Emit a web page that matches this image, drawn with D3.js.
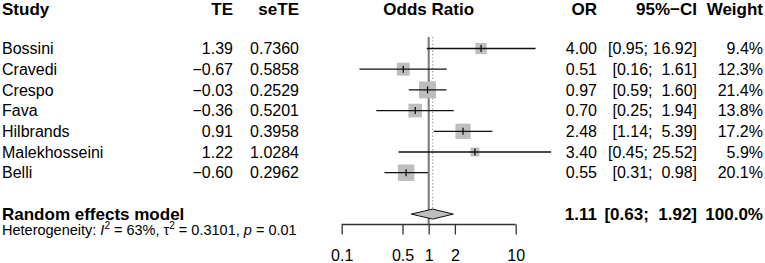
<!DOCTYPE html>
<html><head><meta charset="utf-8">
<script src="https://cdn.jsdelivr.net/npm/d3@7"></script>
<style>
html,body{margin:0;padding:0;background:#fff;}
svg{display:block;font-family:"Liberation Sans",Arial,Helvetica,sans-serif;}
text{white-space:pre;}
</style></head><body>
<svg id="chart" width="765" height="263"></svg>
<script>
const studies = ["Bossini","Cravedi","Crespo","Fava","Hilbrands","Malekhosseini","Belli"];
const te = ["1.39","\u22120.67","\u22120.03","\u22120.36","0.91","1.22","\u22120.60"];
const seTE = ["0.7360","0.5858","0.2529","0.5201","0.3958","1.0284","0.2962"];
const orVals = [4.00,0.51,0.97,0.70,2.48,3.40,0.55];
const lowerCI = [0.95,0.16,0.59,0.25,1.14,0.45,0.31];
const upperCI = [16.92,1.61,1.60,1.94,5.39,25.52,0.98];
const weights = [9.4,12.3,21.4,13.8,17.2,5.9,20.1];
const pooled = {label:"Random effects model", or:1.11, lower:0.63, upper:1.92, weight:100.0};
const tickValues = [0.1,0.5,1,2,10];
const tickLabels = ["0.1","0.5","1","2","10"];
const headers = ["Study","TE","seTE","Odds Ratio","OR","95%\u2212CI","Weight"];

const svg = d3.select("#chart");
const x = d3.scaleLog().domain([0.1,10]).range([341.7,515.7]);
const y = d3.scaleLinear().domain([0,8]).range([48.5,48.5+20.7*8]);
const sq = d3.scaleSqrt().domain([0,d3.max(weights)]).range([0,17]);
const FS = 16, FB = 17;
const base = 5.6;

const fmt2 = v => v.toFixed(2);
function ciStr(l,u){
  const a = fmt2(l), b = fmt2(u);
  return "[" + a + "; " + (b.length < 5 ? " " : "") + b + "]";
}

// headers
const hy = 14.5;
const hdr = svg.append("g").attr("font-weight","bold").attr("font-size",FB);
hdr.append("text").attr("x",2).attr("y",hy).text(headers[0]);
hdr.append("text").attr("x",233).attr("y",hy).attr("text-anchor","end").text(headers[1]);
hdr.append("text").attr("x",299).attr("y",hy).attr("text-anchor","end").text(headers[2]);
hdr.append("text").attr("x",x(1)).attr("y",hy).attr("text-anchor","middle").text(headers[3]);
hdr.append("text").attr("x",597).attr("y",hy).attr("text-anchor","end").text(headers[4]);
hdr.append("text").attr("x",697).attr("y",hy).attr("text-anchor","end").text(headers[5]);
hdr.append("text").attr("x",763).attr("y",hy).attr("text-anchor","end").text(headers[6]);

// reference lines
svg.append("line").attr("x1",x(1)).attr("x2",x(1)).attr("y1",37).attr("y2",224.5)
  .attr("stroke","#777").attr("stroke-width",2);
svg.append("line").attr("x1",x(pooled.or)).attr("x2",x(pooled.or)).attr("y1",37).attr("y2",y(8)-5)
  .attr("stroke","#999").attr("stroke-width",1.2).attr("stroke-dasharray","1.2,2.2");

// study rows
const rows = svg.append("g");
studies.forEach((s,i)=>{
  const yy = y(i);
  const g = rows.append("g").attr("font-size",FS);
  g.append("text").attr("x",2).attr("y",yy+base).text(s);
  g.append("text").attr("x",233).attr("y",yy+base).attr("text-anchor","end").text(te[i]);
  g.append("text").attr("x",299).attr("y",yy+base).attr("text-anchor","end").text(seTE[i]);
  g.append("text").attr("x",597).attr("y",yy+base).attr("text-anchor","end").text(fmt2(orVals[i]));
  g.append("text").attr("x",697).attr("y",yy+base).attr("text-anchor","end").text(ciStr(lowerCI[i],upperCI[i]));
  g.append("text").attr("x",763).attr("y",yy+base).attr("text-anchor","end").text(weights[i].toFixed(1)+"%");
  const side = sq(weights[i]);
  g.append("rect").attr("x",x(orVals[i])-side/2).attr("y",yy-side/2).attr("width",side).attr("height",side)
    .attr("fill","#bebebe");
  g.append("line").attr("x1",x(lowerCI[i])).attr("x2",x(upperCI[i])).attr("y1",yy).attr("y2",yy)
    .attr("stroke","#111").attr("stroke-width",1.3);
  g.append("line").attr("x1",x(orVals[i])).attr("x2",x(orVals[i])).attr("y1",yy-3.5).attr("y2",yy+3.5)
    .attr("stroke","#111").attr("stroke-width",1.3);
});

// pooled row
const py = y(8);
const pg = svg.append("g").attr("font-size",FB).attr("font-weight","bold");
pg.append("text").attr("x",2).attr("y",py+base).text(pooled.label);
pg.append("text").attr("x",597).attr("y",py+base).attr("text-anchor","end").text(fmt2(pooled.or));
pg.append("text").attr("x",697).attr("y",py+base).attr("text-anchor","end").text(ciStr(pooled.lower,pooled.upper));
pg.append("text").attr("x",763).attr("y",py+base).attr("text-anchor","end").text(pooled.weight.toFixed(1)+"%");
svg.append("path")
  .attr("d",`M${x(pooled.lower)},${py} L${x(pooled.or)},${py-5} L${x(pooled.upper)},${py} L${x(pooled.or)},${py+5} Z`)
  .attr("fill","#bebebe").attr("stroke","#111").attr("stroke-width",1);

// heterogeneity
const het = svg.append("text").attr("x",2).attr("y",235).attr("font-size",14.5);
het.append("tspan").text("Heterogeneity: ");
het.append("tspan").attr("font-style","italic").text("I");
het.append("tspan").attr("font-size",10).attr("dy",-6).text("2");
het.append("tspan").attr("dy",6).text(" = 63%, \u03c4");
het.append("tspan").attr("font-size",10).attr("dy",-6).text("2");
het.append("tspan").attr("dy",6).text(" = 0.3101, ");
het.append("tspan").attr("font-style","italic").text("p");
het.append("tspan").text(" = 0.01");

// axis
const axis = d3.axisBottom(x).tickValues(tickValues).tickFormat((d,i)=>tickLabels[i])
  .tickSize(10).tickPadding(15).tickSizeOuter(0);
const ag = svg.append("g").attr("transform","translate(0,224.5)").call(axis);
ag.select(".domain").attr("stroke","#333").attr("stroke-width",1.3).attr("d",`M${x(0.1)},0H${x(10)}`);
ag.selectAll(".tick line").attr("stroke","#333").attr("stroke-width",1.3);
ag.selectAll(".tick text").attr("font-size",FS).attr("fill","#000")
  .attr("font-family","'Liberation Sans',Arial,Helvetica,sans-serif");
</script>
</body></html>
